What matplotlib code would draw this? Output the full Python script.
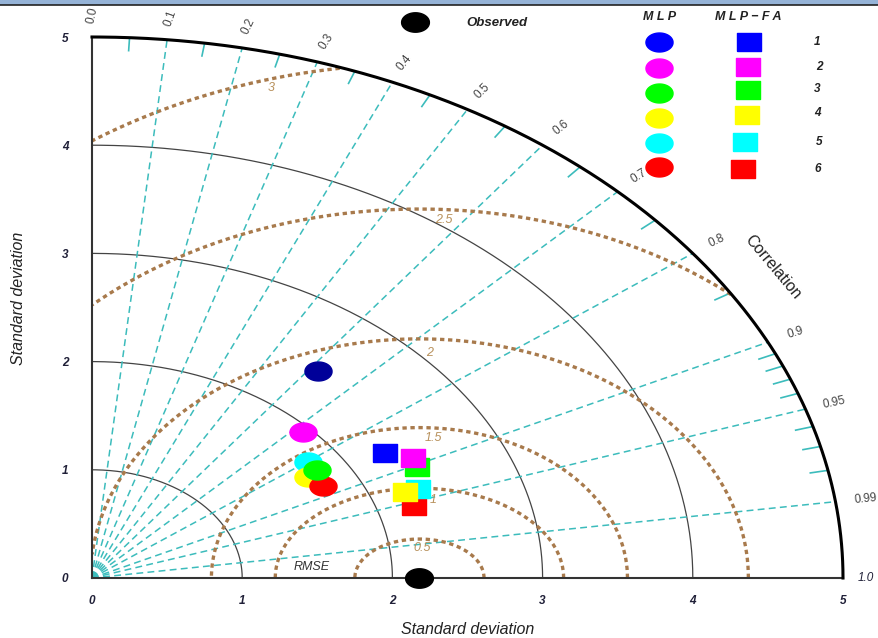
import numpy as np
import matplotlib.pyplot as plt
from matplotlib.path import Path
from matplotlib.patches import Rectangle

plt.rcParams['font.family'] = ['Liberation Sans', 'DejaVu Sans']

# reference (observed) standard deviation
ref_sd = 2.18

# models 1..6 : standard deviation and correlation with observed
model_ids = ['1', '2', '3', '4', '5', '6']
model_colors = ['#0000ff', '#ff00ff', '#00ff00', '#ffff00', '#00ffff', '#ff0000']
mlp_sd = [2.434, 1.948, 1.800, 1.714, 1.794, 1.757]
mlp_corr = [0.618, 0.721, 0.832, 0.839, 0.802, 0.875]
mlpfa_sd = [2.272, 2.410, 2.394, 2.230, 2.320, 2.242]
mlpfa_corr = [0.860, 0.888, 0.903, 0.935, 0.935, 0.955]

# grid definitions
sd_arcs = [1, 2, 3, 4, 5]
corr_lines = [0.1, 0.2, 0.3, 0.4, 0.5, 0.6, 0.7, 0.8, 0.9, 0.95, 0.99]
corr_labels = ['0.0', '0.1', '0.2', '0.3', '0.4', '0.5', '0.6', '0.7', '0.8', '0.9', '0.95', '0.99', '1.0']
corr_minor = [0.05, 0.15, 0.25, 0.35, 0.45, 0.55, 0.65, 0.75, 0.85,
              0.91, 0.92, 0.93, 0.94, 0.96, 0.97, 0.98]
rmse_labels = ['0.5', '1', '1.5', '2', '2.5', '3']
rmse_rx = [0.43, 0.96, 1.385, 2.19, 3.24, 4.145]   # drawn half-widths
rmse_ry = [0.36, 0.83, 1.39, 2.21, 3.41, 4.75]     # drawn half-heights
rmse_lab_xy = [(2.20, 0.28), (2.27, 0.72), (2.27, 1.29), (2.25, 2.08), (2.34, 3.31), (1.19, 4.53)]

smax = 5.0

# marker shapes (wide ellipse / wide rectangle as in the original)
t = np.linspace(0, 2 * np.pi, 80)
ell = Path(np.c_[np.cos(t), 0.70 * np.sin(t)])
rect = Path([(-1, -0.75), (1, -0.75), (1, 0.75), (-1, 0.75), (-1, -0.75)])

fig = plt.figure(figsize=(8.79, 6.38), dpi=100)
ax = fig.add_axes([92 / 879, 60 / 638, 751 / 879, 541 / 638])
ax.set_xlim(0, smax)
ax.set_ylim(0, smax)

for s in ['top', 'right']:
    ax.spines[s].set_visible(False)
for s in ['left', 'bottom']:
    ax.spines[s].set_color('#333333')
    ax.spines[s].set_linewidth(1.5)

ax.set_xticks(range(6))
ax.set_yticks(range(6))
ax.set_xticklabels([str(i) for i in range(6)], fontstyle='italic', fontweight='bold',
                   fontsize=8.5, color='#202038')
ax.set_yticklabels([str(i) for i in range(6)], fontstyle='italic', fontweight='bold',
                   fontsize=8.5, color='#202038')
ax.tick_params(axis='x', length=0, pad=12)
ax.tick_params(axis='y', length=0, pad=17)

fig.text(468 / 879, 1 - 630 / 638, 'Standard deviation', fontstyle='italic', fontsize=11.5,
         color='#222222', ha='center', va='center')
fig.text(19 / 879, 1 - 298 / 638, 'Standard deviation', fontstyle='italic', fontsize=11.5,
         color='#222222', ha='center', va='center', rotation=90)

# standard deviation arcs
th = np.linspace(0, np.pi / 2, 300)
for r in sd_arcs:
    if r == smax:
        ax.plot(r * np.cos(th), r * np.sin(th), color='black', lw=2.2, clip_on=False, zorder=3)
    else:
        ax.plot(r * np.cos(th), r * np.sin(th), color='#444444', lw=0.9, zorder=2)

# correlation rays
for c in corr_lines:
    a = np.arccos(c)
    ax.plot([0, smax * np.cos(a)], [0, smax * np.sin(a)], color='#3cbcbc',
            lw=1.1, ls=(0, (4.5, 2.8)), zorder=2)
for c in corr_minor:
    a = np.arccos(c)
    ax.plot([4.88 * np.cos(a), smax * np.cos(a)], [4.88 * np.sin(a), smax * np.sin(a)],
            color='#3cbcbc', lw=1.2, zorder=2)

# correlation labels
for lab in corr_labels:
    a = np.arccos(float(lab))
    rr = 5.15 if lab == '1.0' else 5.2
    ax.text(rr * np.cos(a), rr * np.sin(a), lab, rotation=np.degrees(a) * 0.9,
            transform_rotates_text=True, rotation_mode='anchor', ha='center', va='center',
            fontsize=8.5, color='#444444' if lab != '1.0' else '#202038',
            fontstyle='normal' if lab != '1.0' else 'italic', clip_on=False)
ax.text(4.53, 2.87, 'Correlation', rotation=-50, ha='center', va='center',
        fontsize=11.5, color='#222222')

# RMSE contours
tt = np.linspace(0, np.pi, 600)
for lab, rx, ry, (lx, ly) in zip(rmse_labels, rmse_rx, rmse_ry, rmse_lab_xy):
    x = ref_sd + rx * np.cos(tt)
    y = ry * np.sin(tt)
    bad = (x < 0) | (x ** 2 + y ** 2 > smax ** 2)
    x[bad] = np.nan
    y[bad] = np.nan
    ax.plot(x, y, color='#a87a4c', lw=2.4, ls=(0, (1.3, 1.1)), zorder=2)
    ax.text(lx, ly, lab, fontsize=9, fontstyle='italic', color='#b8915c',
            ha='center', va='center')
ax.text(1.46, 0.10, 'RMSE', fontsize=9, fontstyle='italic', color='#333333',
        ha='center', va='center')

# observed point
ax.plot([ref_sd], [0], marker=ell, ms=20, color='black', ls='none', clip_on=False, zorder=6)

# MLP points (circles)
for i in [0, 1, 4, 3, 5, 2]:
    a = np.arccos(mlp_corr[i])
    col = '#000099' if i == 0 else model_colors[i]
    ax.plot(mlp_sd[i] * np.cos(a), mlp_sd[i] * np.sin(a), marker=ell, ms=19.5,
            color=col, ls='none', clip_on=False, zorder=6)

# MLP-FA points (squares)
for i in [2, 1, 0, 5, 4, 3]:
    a = np.arccos(mlpfa_corr[i])
    ax.plot(mlpfa_sd[i] * np.cos(a), mlpfa_sd[i] * np.sin(a), marker=rect, ms=17.5,
            color=model_colors[i], ls='none', clip_on=False, zorder=6)

# legend drawn above the plot (data coords from pixel layout)
def px(xp, yp):
    return (xp - 92) / 150.2, (578 - yp) / 108.2

ox, oy = px(415, 22)
ax.plot(ox, oy, marker=ell, ms=20, color='black', ls='none', clip_on=False)
tx, ty = px(497, 23)
ax.text(tx, ty, 'Observed', fontsize=9.5, fontstyle='italic', fontweight='bold',
        ha='center', va='center', color='#222222')
hx, hy = px(660, 17)
ax.text(hx, hy, 'M L P', fontsize=9, fontstyle='italic', fontweight='bold',
        ha='center', va='center', color='#222222')
hx, hy = px(748, 17)
ax.text(hx, hy, 'M L P \u2212 F A', fontsize=9, fontstyle='italic', fontweight='bold',
        ha='center', va='center', color='#222222')

leg_circ_y = [42, 68, 93, 118, 143, 167]
leg_sq = [(749, 42), (748, 67), (748, 90), (747, 115), (745, 142), (743, 169)]
leg_num = [(817, 42), (819, 67), (817, 89), (817, 113), (819, 142), (818, 169)]
for i in range(6):
    cx, cy = px(659, leg_circ_y[i])
    ax.plot(cx, cy, marker=ell, ms=19.5, color=model_colors[i], ls='none', clip_on=False)
    sx, sy = px(*leg_sq[i])
    ax.plot(sx, sy, marker=rect, ms=17.5, color=model_colors[i], ls='none', clip_on=False)
    nx, ny = px(*leg_num[i])
    ax.text(nx, ny, model_ids[i], fontsize=8.5, fontstyle='italic', fontweight='bold',
            ha='center', va='center', color='#222222')

# window band at the top of the screenshot
fig.patches.append(Rectangle((0, 633.5 / 638), 1, 4.5 / 638, transform=fig.transFigure,
                             facecolor='#95b3d7', edgecolor='none'))
fig.lines.append(plt.Line2D([0, 1], [633.5 / 638, 633.5 / 638], transform=fig.transFigure,
                            color='#222222', lw=1.2))

fig.savefig('out.png', dpi=100)
